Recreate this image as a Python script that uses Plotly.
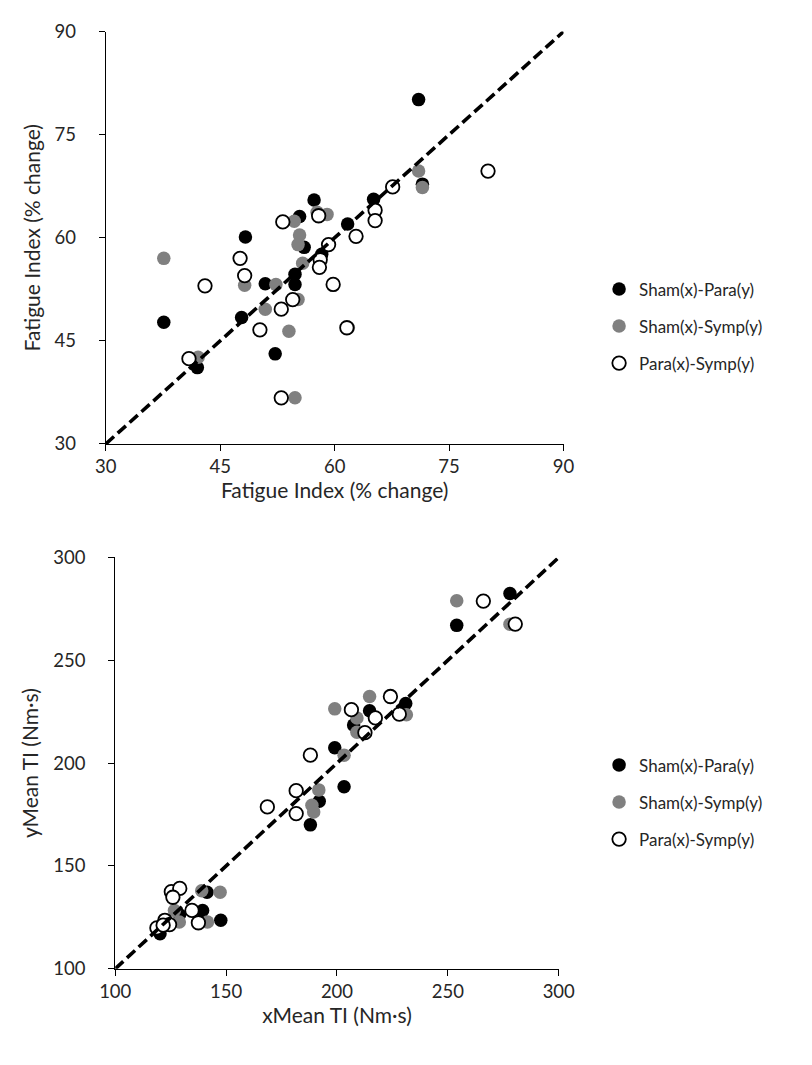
import plotly.graph_objects as go

# ---------------- Top chart data: Fatigue Index (% change) ----------------
fi_sham_para_x = [71.0, 71.5, 65.1, 61.7, 57.3, 55.4, 56.0, 54.8, 54.8, 50.9, 48.3, 47.8, 37.6, 42.0, 52.2, 58.3]
fi_sham_para_y = [80.1, 67.8, 65.6, 62.0, 65.5, 63.1, 58.6, 54.7, 53.2, 53.3, 60.1, 48.4, 47.7, 41.1, 43.1, 57.6]

fi_sham_symp_x = [71.0, 71.5, 59.0, 57.7, 54.7, 55.4, 55.2, 55.8, 52.3, 48.2, 50.9, 55.2, 54.0, 61.8, 54.8, 42.1, 37.6]
fi_sham_symp_y = [69.7, 67.3, 63.4, 63.7, 62.4, 60.4, 59.0, 56.3, 53.2, 53.1, 49.6, 51.0, 46.4, 46.9, 36.7, 42.6, 57.0]

fi_para_symp_x = [80.1, 67.6, 65.3, 65.3, 62.8, 59.2, 58.1, 58.0, 59.8, 57.9, 53.2, 47.6, 48.2, 43.0, 53.0, 54.5, 50.2, 61.6, 53.0, 40.9]
fi_para_symp_y = [69.7, 67.4, 64.0, 62.5, 60.2, 59.0, 56.8, 55.7, 53.2, 63.2, 62.3, 57.0, 54.5, 53.0, 49.6, 51.0, 46.6, 46.9, 36.7, 42.4]

fi_range = [30, 90]
fi_ticks = [30, 45, 60, 75, 90]

# ---------------- Bottom chart data: Mean TI (Nm·s) ----------------
ti_sham_para_x = [278.0, 254.0, 231.0, 214.7, 207.5, 199.0, 203.2, 192.0, 188.0, 141.4, 139.4, 147.6, 129.0, 120.2]
ti_sham_para_y = [282.5, 267.0, 229.0, 225.5, 218.5, 207.5, 188.5, 181.5, 170.0, 137.2, 128.4, 123.6, 126.3, 117.1]

ti_sham_symp_x = [254.0, 278.0, 231.3, 214.7, 199.0, 209.0, 209.0, 203.2, 191.8, 188.7, 189.5, 139.0, 147.3, 126.7, 141.6, 128.9]
ti_sham_symp_y = [279.0, 267.5, 223.5, 232.4, 226.4, 222.0, 215.0, 203.9, 187.0, 179.5, 176.3, 138.0, 137.2, 128.4, 122.8, 122.8]

ti_para_symp_x = [266.0, 280.4, 224.1, 206.5, 217.3, 228.1, 212.6, 188.0, 181.6, 168.6, 181.6, 125.3, 129.1, 126.0, 134.6, 137.5, 122.4, 124.5, 118.8, 121.6]
ti_para_symp_y = [278.8, 267.6, 232.4, 226.0, 222.0, 223.8, 214.8, 203.9, 186.6, 178.7, 175.5, 137.5, 139.1, 134.8, 128.4, 122.4, 123.6, 121.5, 119.9, 121.2]

ti_range = [100, 300]
ti_ticks = [100, 150, 200, 250, 300]

series_names = ["Sham(x)-Para(y)", "Sham(x)-Symp(y)", "Para(x)-Symp(y)"]

W, H = 812, 1065
FONT = "Lato, Carlito, 'Open Sans', sans-serif"
TXT = "#262626"

def mk(color, line_color, line_w):
    return dict(symbol="circle", size=13.5, color=color, line=dict(color=line_color, width=line_w))

styles = [mk("#000000", "#000000", 0), mk("#808080", "#808080", 0), mk("#ffffff", "#000000", 1.8)]

fig = go.Figure()

top_sets = [(fi_sham_para_x, fi_sham_para_y), (fi_sham_symp_x, fi_sham_symp_y), (fi_para_symp_x, fi_para_symp_y)]
bot_sets = [(ti_sham_para_x, ti_sham_para_y), (ti_sham_symp_x, ti_sham_symp_y), (ti_para_symp_x, ti_para_symp_y)]

DASH = dict(color="black", width=3.6, dash="11px,5px")

for i, (xs, ys) in enumerate(top_sets):
    fig.add_trace(go.Scatter(x=xs, y=ys, mode="markers", name=series_names[i], marker=styles[i],
                             xaxis="x", yaxis="y", legend="legend", legendgroup=f"t{i}", cliponaxis=False))
fig.add_trace(go.Scatter(x=fi_range, y=fi_range, mode="lines", line=DASH,
                         xaxis="x", yaxis="y", showlegend=False, hoverinfo="skip"))

for i, (xs, ys) in enumerate(bot_sets):
    fig.add_trace(go.Scatter(x=xs, y=ys, mode="markers", name=series_names[i], marker=styles[i],
                             xaxis="x2", yaxis="y2", legend="legend2", legendgroup=f"b{i}", cliponaxis=False))
fig.add_trace(go.Scatter(x=ti_range, y=ti_range, mode="lines", line=DASH,
                         xaxis="x2", yaxis="y2", showlegend=False, hoverinfo="skip"))

def px_dom_x(a, b):
    return [a / W, b / W]

def px_dom_y(top, bot):
    return [1 - bot / H, 1 - top / H]

tx = px_dom_x(93.5, 570)
ty = px_dom_y(20, 441)
bx = px_dom_x(103.3, 565)
by = px_dom_y(557, 977)

axis_common = dict(showgrid=False, zeroline=False, showline=True, linecolor="#000000", linewidth=1.3,
                   ticks="outside", ticklen=6, tickwidth=1.3, tickcolor="#000000",
                   tickfont=dict(family=FONT, size=18.5, color=TXT), mirror=False)
inner_common = dict(showgrid=False, zeroline=False, showline=False, ticks="inside", ticklen=6, tickwidth=1.3,
                    tickcolor="#000000", showticklabels=False)

title_font = dict(family=FONT, size=21, color=TXT)

fig.update_layout(
    width=W, height=H, margin=dict(l=0, r=0, t=0, b=0),
    paper_bgcolor="white", plot_bgcolor="white",
    font=dict(family=FONT, color=TXT),
    showlegend=True,
    xaxis=dict(domain=tx, range=fi_range, tickvals=fi_ticks, anchor="y",
               title=dict(text="Fatigue Index (% change)", font=title_font, standoff=4), **axis_common),
    yaxis=dict(domain=ty, range=fi_range, tickvals=fi_ticks, anchor="x", ticklabelstandoff=19,
               title=dict(text="Fatigue Index (% change)", font=title_font, standoff=8), **axis_common),
    xaxis3=dict(domain=tx, range=fi_range, tickvals=fi_ticks, anchor="y", overlaying="x", **inner_common),
    yaxis3=dict(domain=ty, range=fi_range, tickvals=fi_ticks, anchor="x", overlaying="y", **inner_common),
    xaxis2=dict(domain=bx, range=ti_range, tickvals=ti_ticks, anchor="y2",
                title=dict(text="xMean TI (Nm·s)", font=title_font, standoff=4), **axis_common),
    yaxis2=dict(domain=by, range=ti_range, tickvals=ti_ticks, anchor="x2", ticklabelstandoff=19,
                title=dict(text="yMean TI (Nm·s)", font=title_font, standoff=8), **axis_common),
    xaxis4=dict(domain=bx, range=ti_range, tickvals=ti_ticks, anchor="y2", overlaying="x2", **inner_common),
    yaxis4=dict(domain=by, range=ti_range, tickvals=ti_ticks, anchor="x2", overlaying="y2", **inner_common),
    legend=dict(x=607 / W, y=1 - 321 / H, xanchor="left", yanchor="middle", tracegroupgap=12,
                font=dict(family=FONT, size=17, color=TXT), itemwidth=30, bgcolor="rgba(0,0,0,0)"),
    legend2=dict(x=607 / W, y=1 - 807 / H, xanchor="left", yanchor="middle", tracegroupgap=12,
                 font=dict(family=FONT, size=17, color=TXT), itemwidth=30, bgcolor="rgba(0,0,0,0)"),
)

fig.write_html("out.html")
